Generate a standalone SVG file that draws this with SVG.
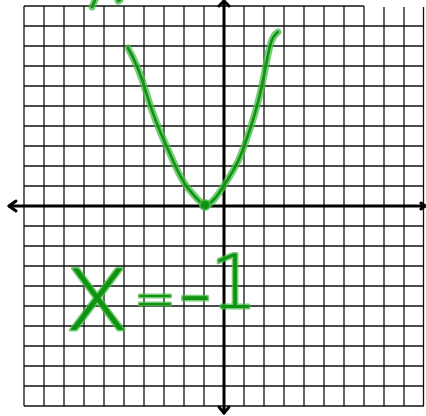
<svg xmlns="http://www.w3.org/2000/svg" width="426" height="416" viewBox="0 0 426 416">
<style>
.grid line{stroke:#111;stroke-width:1.3}
.axis{stroke:#000;stroke-width:3;fill:none;stroke-linecap:round;stroke-linejoin:round}
.halo{fill:none;stroke:#4cbb4c;stroke-opacity:.75;stroke-width:7;stroke-linecap:round;stroke-linejoin:round}
.ink{fill:none;stroke:#0f940f;stroke-width:2.6;stroke-linecap:round;stroke-linejoin:round}
.hand{font-family:"DejaVu Sans","Liberation Sans",sans-serif;font-weight:200;fill:#0f940f;stroke:#4cbb4c;stroke-opacity:.75;stroke-width:3;stroke-linejoin:round;paint-order:stroke}
</style>
<rect width="426" height="416" fill="#fff"/>
<g id="grid" class="grid">
<line x1="24" y1="6" x2="24" y2="406"/><line x1="44" y1="6" x2="44" y2="406"/><line x1="64" y1="6" x2="64" y2="406"/><line x1="84" y1="6" x2="84" y2="406"/><line x1="104" y1="6" x2="104" y2="406"/><line x1="124" y1="6" x2="124" y2="406"/><line x1="144" y1="6" x2="144" y2="406"/><line x1="164" y1="6" x2="164" y2="406"/><line x1="184" y1="6" x2="184" y2="406"/><line x1="204" y1="6" x2="204" y2="406"/><line x1="244" y1="6" x2="244" y2="406"/><line x1="264" y1="6" x2="264" y2="406"/><line x1="284" y1="6" x2="284" y2="406"/><line x1="304" y1="6" x2="304" y2="406"/><line x1="324" y1="6" x2="324" y2="406"/><line x1="344" y1="6" x2="344" y2="406"/><line x1="364" y1="6" x2="364" y2="406"/><line x1="384" y1="7" x2="384" y2="406"/><line x1="404" y1="7" x2="404" y2="406"/><line x1="423.5" y1="7" x2="423.5" y2="406"/>
<line x1="24" y1="6" x2="364" y2="6"/><line x1="24" y1="26" x2="424" y2="26"/><line x1="24" y1="46" x2="424" y2="46"/><line x1="24" y1="66" x2="424" y2="66"/><line x1="24" y1="86" x2="424" y2="86"/><line x1="24" y1="106" x2="424" y2="106"/><line x1="24" y1="126" x2="424" y2="126"/><line x1="24" y1="146" x2="424" y2="146"/><line x1="24" y1="166" x2="424" y2="166"/><line x1="24" y1="186" x2="424" y2="186"/><line x1="24" y1="226" x2="424" y2="226"/><line x1="24" y1="246" x2="424" y2="246"/><line x1="24" y1="266" x2="424" y2="266"/><line x1="24" y1="286" x2="424" y2="286"/><line x1="24" y1="306" x2="424" y2="306"/><line x1="24" y1="326" x2="424" y2="326"/><line x1="24" y1="346" x2="424" y2="346"/><line x1="24" y1="366" x2="424" y2="366"/><line x1="24" y1="386" x2="424" y2="386"/><line x1="24" y1="406" x2="424" y2="406"/>
</g>
<g id="axes">
<path class="axis" d="M9 206H425M224 1V413"/>
<path class="axis" d="M16 201L9 206L16 211"/>
<path class="axis" d="M219 6L224 1L229 6"/>
<path class="axis" d="M219 407L224 413L229 407"/>
<path class="axis" d="M421 203L425 206L421 209"/>
</g>
<g id="parabola">
<path class="halo" d="M128 48C136 62 141 75 146 92C152 112 158 128 166 145C174 162 180 180 192 193C197 199 201 204 205 205C210 205 214 200 219 193C228 180 236 168 242 152C248 136 254 118 258 102C263 84 266 62 270 46C272 38 275 34 278 32"/>
<path class="ink" d="M128 48C136 62 141 75 146 92C152 112 158 128 166 145C174 162 180 180 192 193C197 199 201 204 205 205C210 205 214 200 219 193C228 180 236 168 242 152C248 136 254 118 258 102C263 84 266 62 270 46C272 38 275 34 278 32"/>
<circle cx="205" cy="205" r="5" fill="#0f940f" stroke="#4cbb4c" stroke-opacity=".75" stroke-width="2"/>
<path class="halo" d="M92 7L95 0M118 1L120 0"/>
<path class="ink" d="M92 7L95 0M118 1L120 0"/>
</g>
<g id="answer">
<text class="hand"><tspan x="64" y="330" font-size="112">x</tspan><tspan x="134" y="316" font-size="50">=</tspan><tspan x="178" y="324" font-size="95">-</tspan><tspan x="210" y="308" font-size="75">1</tspan></text>
</g>
</svg>
